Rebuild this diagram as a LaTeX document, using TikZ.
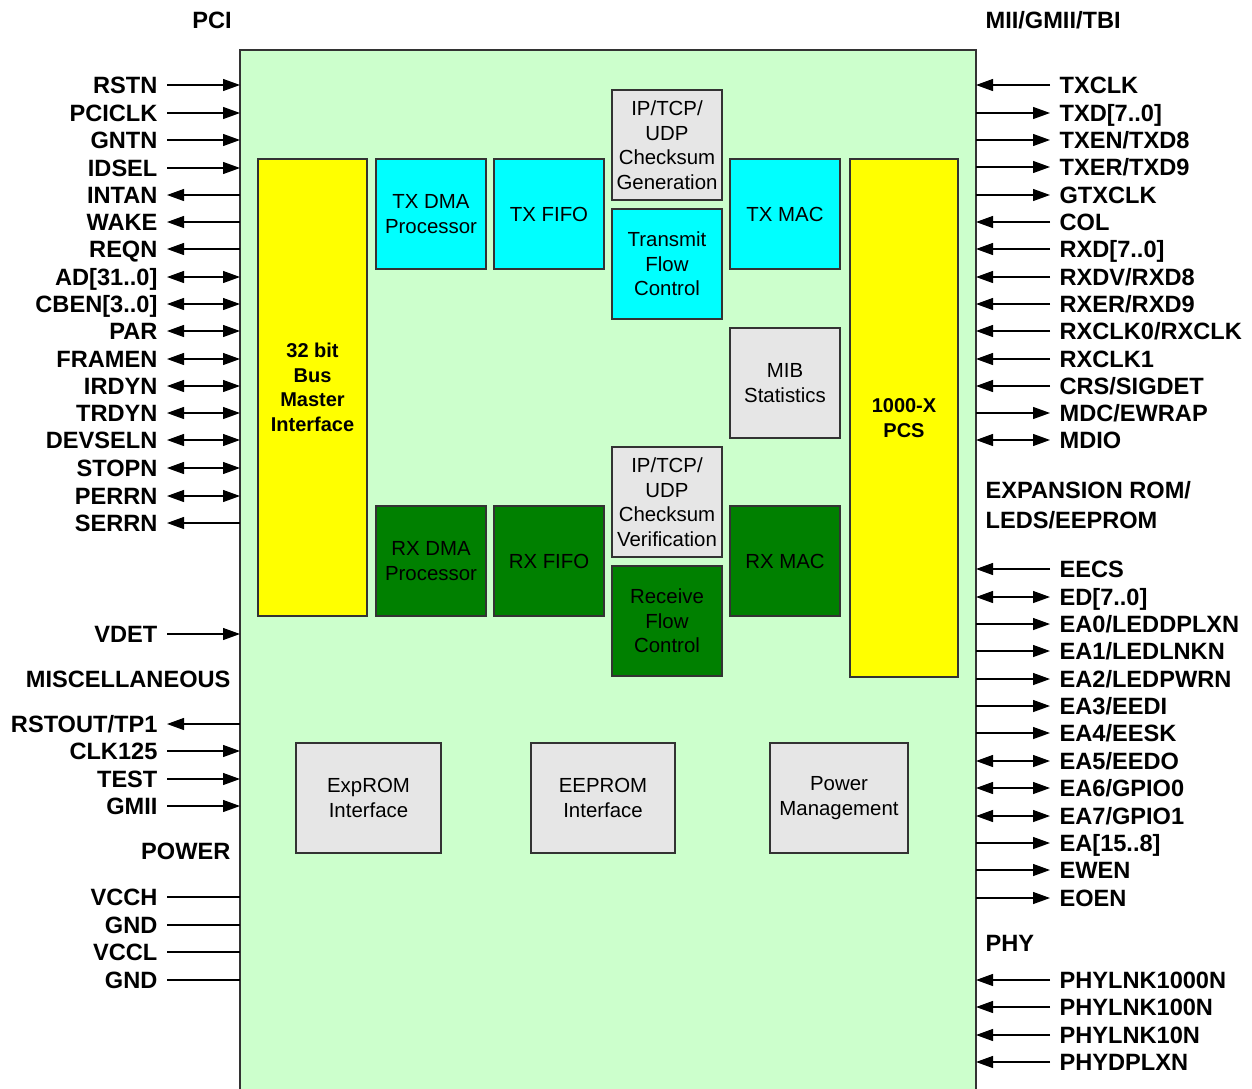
\documentclass[tikz,border=0pt]{standalone}
\usepackage{fontspec}
\setmainfont{Liberation Sans}
\usepackage{tikz}
\usetikzlibrary{positioning, arrows.meta}
\definecolor{chipgreen}{RGB}{204, 255, 204}
\definecolor{blockyellow}{RGB}{255, 255, 0}
\definecolor{blockcyan}{RGB}{0, 255, 255}
\definecolor{blockgreen}{RGB}{0, 128, 0}
\definecolor{blockgray}{RGB}{230, 230, 230}
\newcommand{\pinfont}{\fontsize{11.8}{14}\selectfont\bfseries}
\newcommand{\boxfont}{\fontsize{10.2}{12.25}\selectfont}
\newcommand{\busfont}{\fontsize{10}{12.25}\selectfont\bfseries}
\tikzset{
    pintip/.tip={Triangle[length=8.5pt, width=6pt]},
    pinin/.style={-pintip},
    pinout/.style={pintip-},
    pinbi/.style={pintip-pintip},
    pinnone/.style={},
    pinlabel/.style={font=\pinfont, inner xsep=4.5pt, inner ysep=0pt,
        text height=8.45pt, text depth=0pt},
    block/.style={draw=black!80, line width=0.7pt, outer sep=0pt, inner sep=1pt,
        align=center, font=\boxfont, minimum width=55pt, minimum height=55pt},
    cyanblock/.style={block, fill=blockcyan},
    greenblock/.style={block, fill=blockgreen},
    grayblock/.style={block, fill=blockgray},
    yellowblock/.style={block, fill=blockyellow, font=\busfont, minimum width=54.5pt}
}

\begin{document}
\begin{tikzpicture}[x=0.5pt, y=-0.5pt, line width=0.6pt]
    \useasboundingbox (0,0) rectangle (1252,1088);
    % the chip
    \node[draw=black!80, line width=0.8pt, fill=chipgreen, outer sep=0pt,
        anchor=north west, minimum width=368pt, minimum height=525pt] (chip) at (240,50) {};

    % headings
    \node[pinlabel] (pci) at (212,20) {PCI};
    \node[pinlabel, anchor=west] (mii) at (976,20) {MII/GMII/TBI};
    \node[pinlabel, anchor=east] (misc) at (240,679) {MISCELLANEOUS};
    \node[pinlabel, anchor=east] (pwr) at (240,851) {POWER};
    \node[pinlabel, anchor=west] (exp1) at (976,490) {EXPANSION ROM/};
    \node[pinlabel, anchor=west] (exp2) at (976,520) {LEDS/EEPROM};
    \node[pinlabel, anchor=west] (phy) at (976,943) {PHY};

    % PCI side pins
    \foreach \y/\name/\dir [count=\n] in {85/RSTN/pinin, 113/PCICLK/pinin, 140/GNTN/pinin,
        168/IDSEL/pinin, 195/INTAN/pinout, 222/WAKE/pinout, 249/REQN/pinout,
        277/{AD[31..0]}/pinbi, 304/{CBEN[3..0]}/pinbi, 331/PAR/pinbi, 359/FRAMEN/pinbi,
        386/IRDYN/pinbi, 413/TRDYN/pinbi, 440/DEVSELN/pinbi, 468/STOPN/pinbi,
        496/PERRN/pinbi, 523/SERRN/pinout, 634/VDET/pinin, 724/{RSTOUT/TP1}/pinout,
        751/CLK125/pinin, 779/TEST/pinin, 806/GMII/pinin, 897/VCCH/pinnone,
        925/GND/pinnone, 952/VCCL/pinnone, 980/GND/pinnone}
    {
        \node[pinlabel, anchor=east] (pl\n) at (167,\y) {\name};
        \draw[\dir] (pl\n.east) -- (pl\n.east -| chip.west);
    }

    % MII / EEPROM / PHY side pins
    \foreach \y/\name/\dir [count=\n] in {85/TXCLK/pinin, 113/{TXD[7..0]}/pinout,
        140/{TXEN/TXD8}/pinout, 167/{TXER/TXD9}/pinout, 195/GTXCLK/pinout, 222/COL/pinin,
        249/{RXD[7..0]}/pinin, 277/{RXDV/RXD8}/pinin, 304/{RXER/RXD9}/pinin,
        331/{RXCLK0/RXCLK}/pinin, 359/RXCLK1/pinin, 386/{CRS/SIGDET}/pinin,
        413/{MDC/EWRAP}/pinout, 440/MDIO/pinbi, 569/EECS/pinin, 597/{ED[7..0]}/pinbi,
        624/{EA0/LEDDPLXN}/pinout, 651/{EA1/LEDLNKN}/pinout, 679/{EA2/LEDPWRN}/pinout,
        706/{EA3/EEDI}/pinout, 733/{EA4/EESK}/pinout, 761/{EA5/EEDO}/pinbi,
        788/{EA6/GPIO0}/pinbi, 816/{EA7/GPIO1}/pinbi, 843/{EA[15..8]}/pinout,
        870/EWEN/pinout, 898/EOEN/pinout, 980/PHYLNK1000N/pinin, 1007/PHYLNK100N/pinin,
        1035/PHYLNK10N/pinin, 1062/PHYDPLXN/pinin}
    {
        \node[pinlabel, anchor=west] (pr\n) at (1050,\y) {\name};
        \draw[\dir] (pr\n.west) -- (pr\n.west -| chip.east);
    }

    % interfaces to the outside
    \node[yellowblock, minimum height=228.5pt] (busif) at (312.5,387.5) {32 bit\\Bus\\Master\\Interface};
    \node[yellowblock, minimum width=54pt, minimum height=259pt] (pcs) at (904,418) {1000-X\\PCS};

    % transmit path
    \node[cyanblock] (txdma) at (431,214) {TX DMA\\Processor};
    \node[cyanblock, right=4pt of txdma] (txfifo) {TX FIFO};
    \node[grayblock] (txcsum) at (667,145) {IP/TCP/\\UDP\\Checksum\\Generation};
    \node[cyanblock, below=4.5pt of txcsum] (txflow) {Transmit\\Flow\\Control};
    \node[cyanblock] (txmac) at (785,214) {TX MAC};
    \node[grayblock, below=29.5pt of txmac] (mib) {MIB\\Statistics};

    % receive path
    \node[greenblock] (rxdma) at (431,561) {RX DMA\\Processor};
    \node[greenblock, right=4pt of rxdma] (rxfifo) {RX FIFO};
    \node[grayblock] (rxcsum) at (667,502) {IP/TCP/\\UDP\\Checksum\\Verification};
    \node[greenblock, below=4.5pt of rxcsum] (rxflow) {Receive\\Flow\\Control};
    \node[greenblock] (rxmac) at (785,561) {RX MAC};

    % support blocks
    \node[grayblock, minimum width=72.5pt] (exprom) at (368.5,798) {ExpROM\\Interface};
    \node[grayblock, minimum width=72pt] (eeprom) at (603,798) {EEPROM\\Interface};
    \node[grayblock, minimum width=69pt] (pwrmgmt) at (839,798) {Power\\Management};
\end{tikzpicture}
\end{document}
